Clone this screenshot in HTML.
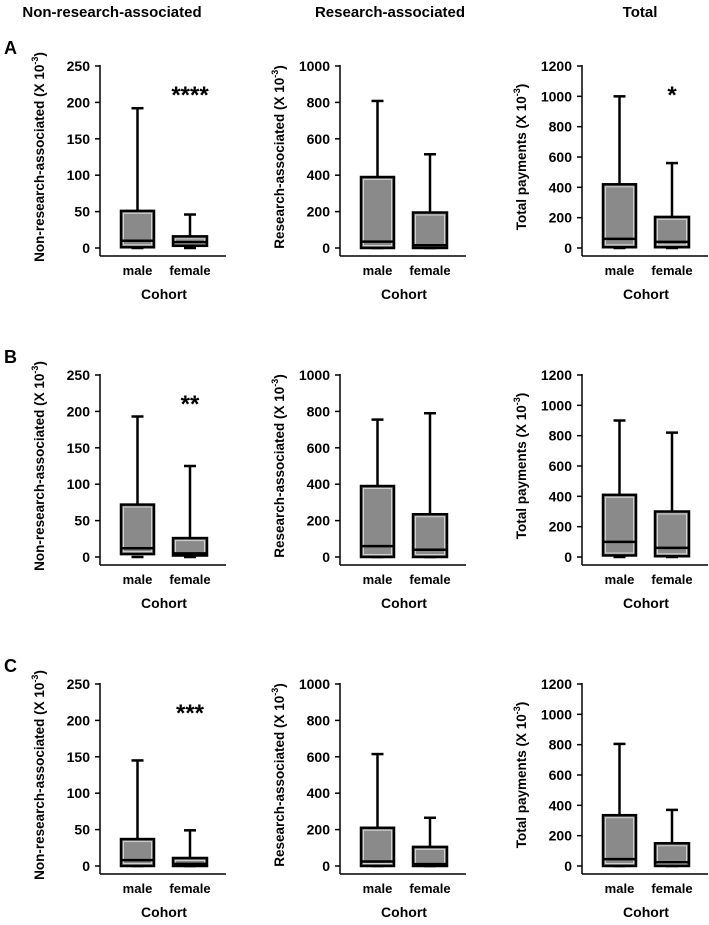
<!DOCTYPE html>
<html><head><meta charset="utf-8"><style>
body{margin:0;background:#fff}
svg{display:block;font-family:"Liberation Sans",Arial,sans-serif;font-weight:bold}
</style></head><body>
<svg id="chart" width="709" height="925" viewBox="0 0 709 925"></svg>
<script>
const columnTitles=["Non-research-associated","Research-associated","Total"];
const rowLetters=["A","B","C"];
const yLabels=["Non-research-associated (X 10","Research-associated (X 10","Total payments (X 10"];
const yMax=[250,1000,1200];
const yTicks1=[0,50,100,150,200,250];
const yTicks2=[0,200,400,600,800,1000];
const yTicks3=[0,200,400,600,800,1000,1200];
const categories=["male","female"];
// [min,q1,median,q3,max] per row, column, category
const rowA_male=[[0,1,10,51,192],[0,0,35,390,808],[0,5,60,420,1000]];
const rowA_female=[[0,3,8,16,46],[0,0,15,195,515],[0,5,40,205,560]];
const rowB_male=[[0,4,12,72,193],[0,0,60,390,755],[0,10,100,410,900]];
const rowB_female=[[0,2,5,26,125],[0,0,40,235,790],[0,5,60,300,820]];
const rowC_male=[[0,0,8,37,145],[0,0,25,210,615],[0,0,45,335,805]];
const rowC_female=[[0,0,3,11,49],[0,0,10,105,265],[0,0,25,150,370]];
const stars=[["****","","*"],["**","",""],["***","",""]];

const svg=document.getElementById('chart');
const NS="http://www.w3.org/2000/svg";
function mk(tag,attrs,parent){const e=document.createElementNS(NS,tag);for(const k in attrs)e.setAttribute(k,attrs[k]);(parent||svg).appendChild(e);return e;}
const tickSets=[yTicks1,yTicks2,yTicks3];
const maleRows=[rowA_male,rowB_male,rowC_male];
const femaleRows=[rowA_female,rowB_female,rowC_female];
const axisX=[100,340,582];
const zeroY=[248,557,866];
const H=182;
const colCenters=[112,390,640];

columnTitles.forEach((t,c)=>{
  const e=mk('text',{x:colCenters[c],y:17,'text-anchor':'middle','font-size':15});
  e.textContent=t;
  
  
});

for(let r=0;r<3;r++){
  const L=mk('text',{x:4,y:zeroY[r]-194,'font-size':18});
  L.textContent=rowLetters[r];
  
  
  for(let c=0;c<3;c++){
    const g=mk('g',{});
    
    
    const ax=axisX[c],z=zeroY[r];
    const ys=v=>z-v/yMax[c]*H;
    const xs=v=>ax+v;
    const ya=mk('line',{x1:ax,y1:ys(yMax[c])-1,x2:ax,y2:z+8,stroke:'#000','stroke-width':1.5},g);
    
    
    const xa=mk('line',{x1:ax,y1:z+8,x2:ax+126,y2:z+8,stroke:'#000','stroke-width':1.5},g);
    
    
    tickSets[c].forEach(t=>{
      mk('line',{x1:ax-5,y1:ys(t),x2:ax,y2:ys(t),stroke:'#000','stroke-width':1.5},g);
      const tl=mk('text',{x:ax-10,y:ys(t)+5,'text-anchor':'end','font-size':14},g);
      tl.textContent=t;
      
      
    });
    const yl=mk('text',{transform:`translate(${ax-56},${z-91}) rotate(-90)`,'text-anchor':'middle','font-size':13.5},g);
    yl.textContent=yLabels[c];
    const sup=mk('tspan',{dy:-6,'font-size':9},yl);sup.textContent='-3';
    const cl=mk('tspan',{dy:6},yl);cl.textContent=')';
    
    
    const xt=mk('text',{x:ax+64,y:z+51,'text-anchor':'middle','font-size':14},g);
    xt.textContent='Cohort';
    
    
    const boxes=[[21,54],[73,107]];
    [maleRows[r][c],femaleRows[r][c]].forEach((d,i)=>{
      const x0=xs(boxes[i][0]),x1=xs(boxes[i][1]),xm=(x0+x1)/2;
      const bg=mk('g',{},g);
      
      
      mk('line',{x1:xm,y1:ys(d[4]),x2:xm,y2:ys(d[3]),stroke:'#000','stroke-width':2.5},bg);
      mk('line',{x1:xm-6,y1:ys(d[4]),x2:xm+6,y2:ys(d[4]),stroke:'#000','stroke-width':2.5},bg);
      mk('line',{x1:xm-6,y1:ys(d[0]),x2:xm+6,y2:ys(d[0]),stroke:'#000','stroke-width':2.5},bg);
      const top=ys(d[3]),bot=ys(d[1]);
      mk('rect',{x:x0,y:top,width:x1-x0,height:Math.max(bot-top,2),fill:'#8a8a8a',stroke:'#000','stroke-width':2.5},bg);
      if(bot-top>6)mk('rect',{x:x0+2.5,y:top+2.5,width:x1-x0-5,height:bot-top-5,fill:'none',stroke:'#d0d0d0','stroke-width':1},bg);
      mk('line',{x1:x0,y1:ys(d[2]),x2:x1,y2:ys(d[2]),stroke:'#000','stroke-width':2.5},bg);
      const cat=mk('text',{x:xm,y:z+27,'text-anchor':'middle','font-size':13},g);
      cat.textContent=categories[i];
      
      
    });
    if(stars[r][c]){
      const s=mk('text',{x:ax+90,y:z-145,'text-anchor':'middle','font-size':24},g);
      s.textContent=stars[r][c];
      
      
    }
  }
}
</script>
</body></html>
